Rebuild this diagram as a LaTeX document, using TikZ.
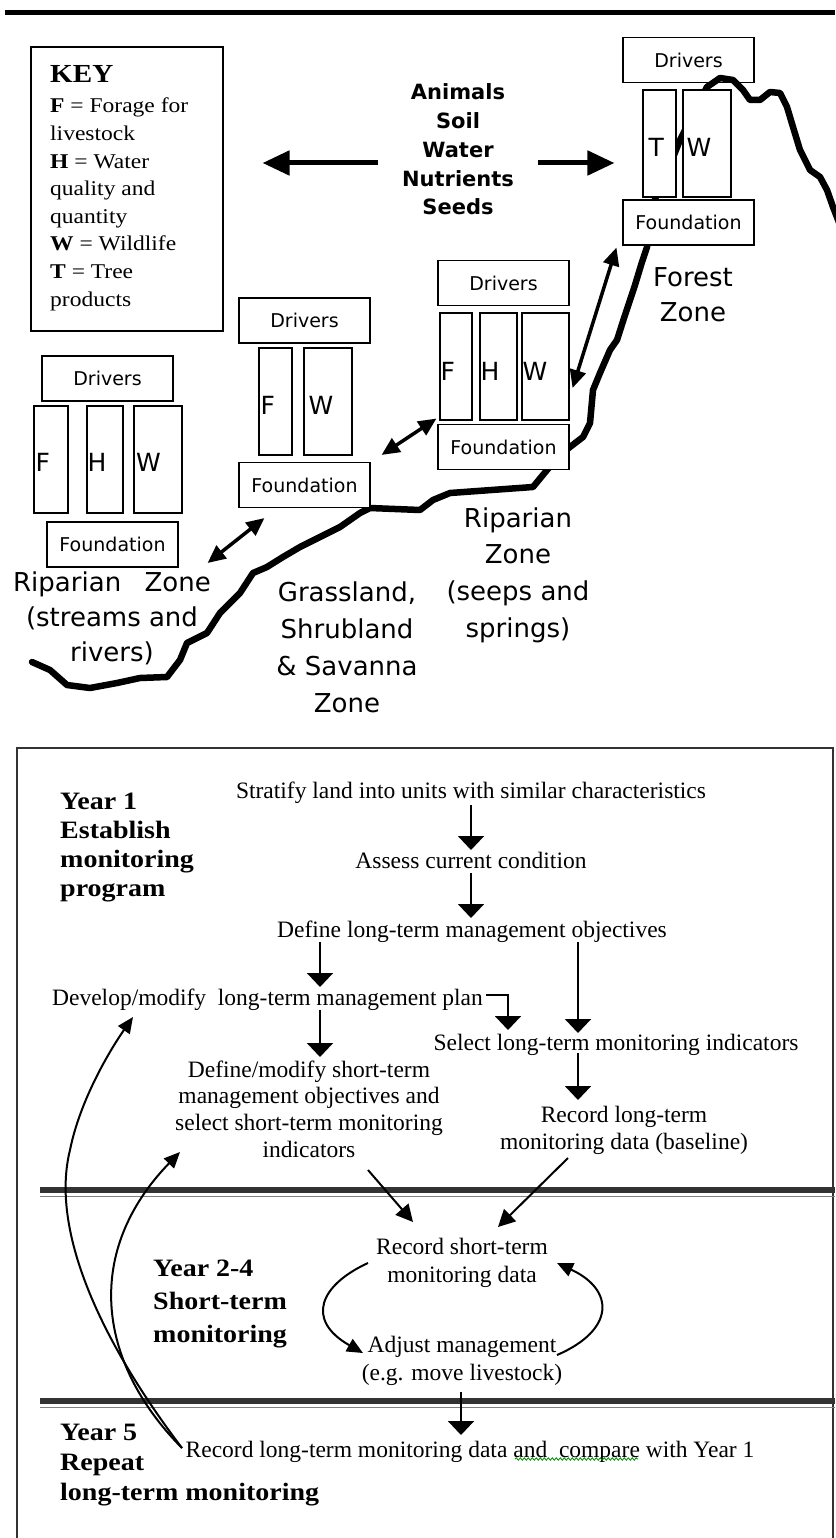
\documentclass[tikz,border=0pt]{standalone}
\usepackage{fontspec}
\setmainfont{Liberation Serif}
\newfontfamily\dvs{DejaVu Sans}
\newfontfamily\serw[FakeStretch=1.12]{Liberation Serif}
\usetikzlibrary{arrows.meta,decorations.pathmorphing}
\newcommand{\tabc}[1]{\begin{tabular}[t]{@{}c@{}}#1\end{tabular}}
\newcommand{\tabl}[1]{\begin{tabular}[t]{@{}l@{}}#1\end{tabular}}
\tikzset{
  box/.style={draw, fill=white, line width=1.1pt, inner sep=0pt},
  drv/.style={box, minimum width=131pt, minimum height=45pt, font=\dvs\fontsize{19}{22}\selectfont},
  col/.style={box, minimum height=107pt},
  lbl/.style={inner sep=0pt, anchor=west, font=\dvs\fontsize{25}{25}\selectfont},
  ground/.style={line width=6.5pt, line join=round, line cap=round},
  bigarr/.style={line width=5pt, -{Triangle[length=27pt,width=24pt]}},
  dblarr/.style={line width=3.5pt, {Triangle[length=18pt,width=16pt]}-{Triangle[length=18pt,width=16pt]}},
  zone/.style={inner sep=0pt, anchor=base, font=\dvs\fontsize{26}{35}\selectfont},
  body/.style={inner sep=0pt, anchor=base, font=\fontsize{23.5}{27}\selectfont},
  yr/.style={inner sep=0pt, anchor=base west, font=\serw\bfseries\fontsize{25}{29}\selectfont},
  farr/.style={line width=2pt, -{Triangle[length=14pt,width=26pt]}},
  darr/.style={line width=2pt, -{Triangle[length=17pt,width=17pt]}},
  carr/.style={line width=2pt, -{Triangle[length=16pt,width=14pt]}},
  septhick/.style={line width=6pt, black!80},
  septhin/.style={line width=1pt, black!50},
}
\begin{document}
\begin{tikzpicture}[x=1pt,y=-1pt]
\useasboundingbox (0,0) rectangle (835,1538);
\fill[white] (0,0) rectangle (835,1538);
\draw[line width=5pt] (5,12.5) -- (835,12.5);
% key
\node[draw, line width=1.1pt, minimum width=192pt, minimum height=284pt, inner sep=0pt] (keybox) at (127,189) {};
\node[inner sep=0pt, anchor=base west, font=\serw\bfseries\fontsize{26}{26}\selectfont] (keyhd) at (50,83) {KEY};
\node[inner sep=0pt, anchor=base west, font=\serw\fontsize{21}{27.6}\selectfont] (keytx) at (50,113) {\tabl{\textbf{F} = Forage for\\livestock\\\textbf{H} = Water\\quality and\\quantity\\\textbf{W} = Wildlife\\\textbf{T} = Tree\\products}};
% centre text
\node[inner sep=0pt, anchor=base, font=\dvs\bfseries\fontsize{21}{28.75}\selectfont] (anim) at (458,100) {\tabc{Animals\\Soil\\Water\\Nutrients\\Seeds}};
% ground line, part behind boxes
\draw[ground] (32,662) -- (50,670) -- (67,685) -- (90,688) -- (117,683) -- (140,678) -- (167,677) -- (180,660) -- (187,643) -- (207,633) -- (220,613) -- (240,593) -- (253,573) -- (267,567) -- (283,557) -- (300,547) -- (320,537) -- (340,527) -- (360,513) -- (370,508) -- (420,510) -- (433,500) -- (450,493) -- (533,487) -- (547,470) -- (560,455) -- (570,447) -- (583,437) -- (590,423) -- (593,390) -- (600,373) -- (610,350) -- (617,340) -- (625,315) -- (635,285) -- (642,262) -- (647,247) -- (655,199) -- (672,160) -- (680,140) -- (700,100) -- (707,87);
% forest stack
\node[drv] (fDrv) at (688.5,60) {Drivers};
\node[col, minimum width=33pt] (fT) at (659.5,143.5) {};
\node[col, minimum width=48pt] (fW) at (707,143.5) {};
\node[drv] (fFnd) at (688.5,222.5) {Foundation};
\node[lbl] (fTl) at ([shift={(6,4)}]fT.west) {T};
\node[lbl] (fWl) at ([shift={(4,4)}]fW.west) {W};
% seeps stack
\node[drv] (sDrv) at (503.5,283) {Drivers};
\node[col, minimum width=32pt] (sF) at (456,366.5) {};
\node[col, minimum width=37pt] (sH) at (498.5,366.5) {};
\node[col, minimum width=47pt] (sW) at (545.5,366.5) {};
\node[drv] (sFnd) at (503.5,447) {Foundation};
\node[lbl] (sFl) at ([shift={(1,5)}]sF.west) {F};
\node[lbl] (sHl) at ([shift={(1,5)}]sH.west) {H};
\node[lbl] (sWl) at ([shift={(1,5)}]sW.west) {W};
% grassland stack
\node[drv] (gDrv) at (304.5,320.5) {Drivers};
\node[col, minimum width=33pt] (gF) at (275.5,401.5) {};
\node[col, minimum width=48pt] (gW) at (328,401.5) {};
\node[drv] (gFnd) at (304.5,485) {Foundation};
\node[lbl] (gFl) at ([shift={(2,4)}]gF.west) {F};
\node[lbl] (gWl) at ([shift={(5,4)}]gW.west) {W};
% streams stack
\node[drv] (rDrv) at (107.5,378.5) {Drivers};
\node[col, minimum width=34pt] (rF) at (51,459.5) {};
\node[col, minimum width=36pt] (rH) at (105,459.5) {};
\node[col, minimum width=48pt] (rW) at (158,459.5) {};
\node[drv] (rFnd) at (112.5,544.5) {Foundation};
\node[lbl] (rFl) at ([shift={(2,3)}]rF.west) {F};
\node[lbl] (rHl) at ([shift={(1,3)}]rH.west) {H};
\node[lbl] (rWl) at ([shift={(2.5,3)}]rW.west) {W};
% ground line, part over boxes
\draw[ground] (707,87) -- (720,78) -- (733,80) -- (743,90) -- (750,100) -- (760,100) -- (770,92) -- (780,93) -- (787,107) -- (793,127) -- (800,150) -- (810,170) -- (820,177) -- (827,190) -- (833,207) -- (840,225);
% zone labels
\node[zone] (forz) at (693,287) {\tabc{Forest\\Zone}};
\node[zone] (ripst) at (112,591) {\tabc{Riparian\hspace{0.9em}Zone\\(streams and\\rivers)}};
\node[zone, font=\dvs\fontsize{26}{37}\selectfont] (grz) at (347,601) {\tabc{Grassland,\\Shrubland\\\& Savanna\\Zone}};
\node[zone, font=\dvs\fontsize{26}{36.7}\selectfont] (ripsp) at (518,527) {\tabc{Riparian\\Zone\\(seeps and\\springs)}};
% top arrows
\draw[bigarr] ([shift={(-80,63)}]anim.base) -- ([shift={(39,-26)}]keybox.east);
\draw[bigarr] ([shift={(80,63)}]anim.base) -- ([shift={(-28,19.5)}]fT.west);
% double arrows
\draw[dblarr] ([shift={(-6,2)}]fFnd.south west) -- ([shift={(3,21.5)}]sW.east);
\draw[dblarr] ([shift={(11,-7)}]gFnd.north east) -- ([shift={(-3,-2)}]sF.south west);
\draw[dblarr] ([shift={(29,18.5)}]rFnd.east) -- ([shift={(26,10)}]gFnd.south west);
% ===== bottom panel =====
\draw[line width=1.2pt, black!80] (17,1545) -- (17,748) -- (833,748) -- (833,1545);
\draw[septhick] (40,1190) -- (835,1190);
\draw[septhin] (40,1196.5) -- (835,1196.5);
\draw[septhick] (40,1400.5) -- (835,1400.5);
\draw[septhin] (40,1407) -- (835,1407);
\node[yr] (y1) at (60,809) {\tabl{Year 1\\Establish\\monitoring\\program}};
\node[yr, font=\serw\bfseries\fontsize{25}{33}\selectfont] (y2) at (153,1276) {\tabl{Year 2-4\\Short-term\\monitoring}};
\node[yr, font=\serw\bfseries\fontsize{25}{30}\selectfont] (y5) at (60,1440) {\tabl{Year 5\\Repeat\\long-term monitoring}};
\node[body] (strat) at (471,798) {Stratify land into units with similar characteristics};
\node[body] (assess) at (471,868) {Assess current condition};
\node[body] (defobj) at (472,937) {Define long-term management objectives};
\node[body] (devplan) at (267.5,1005) {Develop/modify~ long-term management plan};
\node[body] (selind) at (616,1050) {Select long-term monitoring indicators};
\node[body, font=\fontsize{23.5}{26.7}\selectfont] (sdef) at (309,1077) {\tabc{Define/modify short-term\\management objectives and\\select short-term monitoring\\indicators}};
\node[body] (reclt) at (624,1122) {\tabc{Record long-term\\monitoring data (baseline)}};
\node[body, font=\fontsize{23.5}{28}\selectfont] (recst) at (462,1254) {\tabc{Record short-term\\monitoring data}};
\node[body, font=\fontsize{23.5}{28}\selectfont] (adj) at (462,1352) {\tabc{Adjust management\\(e.g. move livestock)}};
\node[body] (final) at (470,1457) {Record long-term monitoring data and~ compare with Year 1};
\draw[green!55!black, line width=0.8pt, decorate, decoration={snake, amplitude=1.2pt, segment length=4pt}] ([shift={(45,2)}]final.base) -- ([shift={(168,2)}]final.base);
% arrows
\draw[farr] ([shift={(0,7)}]strat.base) -- ([shift={(0,-18)}]assess.base);
\draw[farr] ([shift={(0,5)}]assess.base) -- ([shift={(-1,-19)}]defobj.base);
\draw[farr] ([shift={(-152,5)}]defobj.base) -- ([shift={(52.5,-18)}]devplan.base);
\draw[farr] ([shift={(106,5)}]defobj.base) -- ([shift={(-38,-17)}]selind.base);
\draw[farr] ([shift={(218.5,-10)}]devplan.base) -| ([shift={(-108,-20)}]selind.base);
\draw[farr] ([shift={(52.5,5)}]devplan.base) -- ([shift={(11,-20)}]sdef.base);
\draw[farr] ([shift={(-38,3)}]selind.base) -- ([shift={(-46,-22)}]reclt.base);
\draw[darr] ([shift={(59,93)}]sdef.base) -- ([shift={(-49,-32)}]recst.base);
\draw[darr] ([shift={(-56,36)}]reclt.base) -- ([shift={(36,-27)}]recst.base);
\draw[carr] ([shift={(-94,9)}]recst.base) .. controls (320,1285) and (305,1320) .. ([shift={(-99,1)}]adj.base);
\draw[carr] ([shift={(95,3)}]adj.base) .. controls (615,1330) and (615,1290) .. ([shift={(95,9)}]recst.base);
\draw[farr] ([shift={(-1,40)}]adj.base) -- ([shift={(-9,-22)}]final.base);
\draw[carr] ([shift={(-288,-9)}]final.base) .. controls (100,1340) and (50,1230) .. (70,1150) .. controls (80,1100) and (110,1050) .. ([shift={(-134.5,12)}]devplan.base);
\draw[carr] ([shift={(-288,-9)}]final.base) .. controls (95,1360) and (85,1250) .. ([shift={(-129,75)}]sdef.base);
\end{tikzpicture}
\end{document}
